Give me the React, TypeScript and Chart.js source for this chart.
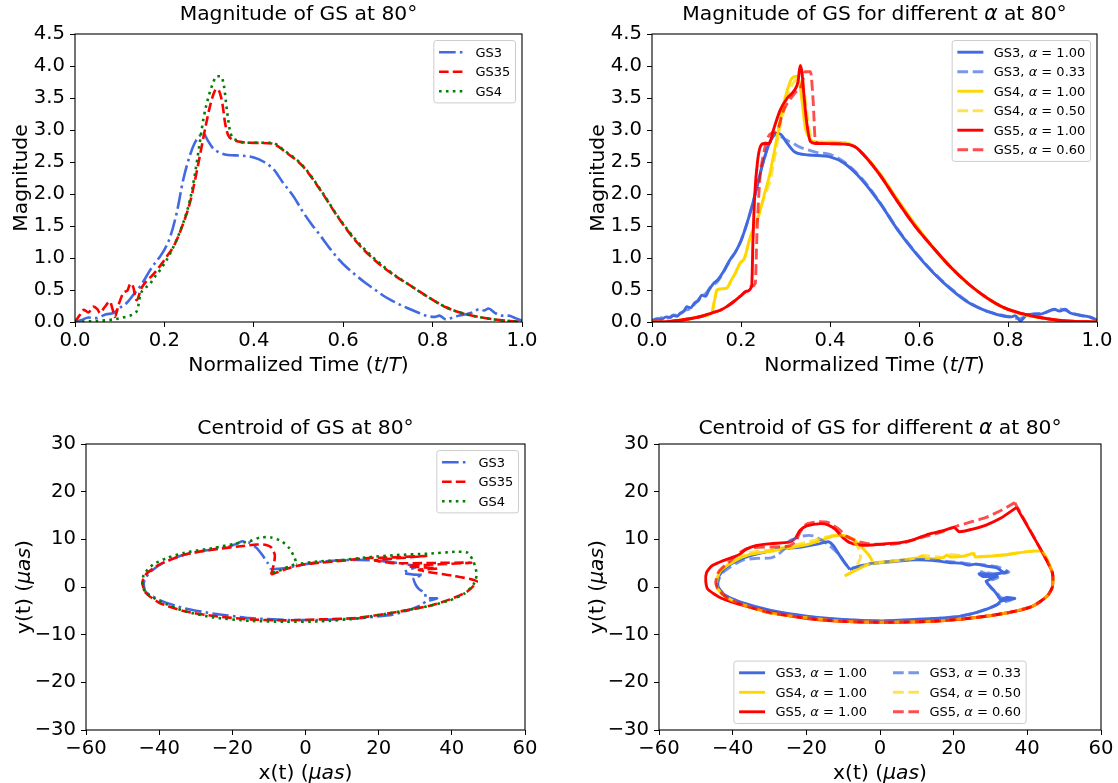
import React, { useEffect, useRef } from 'react';
import { Chart, registerables } from 'chart.js';

Chart.register(...registerables);

type Pt = [number, number];
type Part = { t: string; it?: boolean };

const FONT = '"DejaVu Sans", "Liberation Sans", sans-serif';
const FS = 20.3;
const TFS = 19.6;
const LFS = 13;

const BLUE = '#4169E1';
const RED = '#FF0000';
const GREEN = '#008000';
const GOLD = '#FFD700';
const BLUE_L = 'rgba(65,105,225,0.7)';
const RED_L = 'rgba(255,0,0,0.7)';
const GOLD_L = 'rgba(255,215,0,0.7)';

// ---------- tick labels ----------
const timeTicks = ['0.0', '0.2', '0.4', '0.6', '0.8', '1.0'];
const magTicks = ['0.0', '0.5', '1.0', '1.5', '2.0', '2.5', '3.0', '3.5', '4.0', '4.5'];
const posXTicks = ['\u221260', '\u221240', '\u221220', '0', '20', '40', '60'];
const posYTicks = ['\u221230', '\u221220', '\u221210', '0', '10', '20', '30'];

// ---------- top-left: magnitude [t/T, magnitude] ----------
const magGS3: Pt[] = [[0,0],[0.015,0.03],[0.03,0.07],[0.045,0.06],[0.056,0.08],[0.07,0.12],[0.086,0.14],[0.1,0.22],[0.116,0.3],[0.13,0.42],[0.145,0.55],[0.157,0.68],[0.168,0.81],[0.18,0.93],[0.19,1.02],[0.2,1.13],[0.213,1.33],[0.228,1.72],[0.242,2.22],[0.256,2.58],[0.268,2.8],[0.278,2.9],[0.287,2.95],[0.296,2.85],[0.308,2.72],[0.322,2.65],[0.342,2.61],[0.37,2.6],[0.4,2.57],[0.423,2.5],[0.445,2.38],[0.463,2.2],[0.49,1.95],[0.51,1.72],[0.53,1.52],[0.55,1.34],[0.57,1.15],[0.59,0.98],[0.61,0.84],[0.63,0.72],[0.65,0.61],[0.67,0.51],[0.69,0.41],[0.71,0.33],[0.73,0.26],[0.75,0.2],[0.77,0.14],[0.79,0.09],[0.805,0.08],[0.815,0.1],[0.83,0.04],[0.845,0.07],[0.86,0.1],[0.875,0.12],[0.89,0.15],[0.905,0.2],[0.915,0.18],[0.925,0.21],[0.94,0.14],[0.955,0.1],[0.97,0.1],[0.985,0.06],[1.0,0.02]];
const magGS35: Pt[] = [[0,0],[0.01,0.1],[0.02,0.19],[0.03,0.15],[0.041,0.24],[0.05,0.2],[0.056,0.14],[0.066,0.23],[0.078,0.32],[0.084,0.2],[0.089,0.08],[0.098,0.28],[0.108,0.45],[0.118,0.5],[0.124,0.6],[0.13,0.55],[0.138,0.34],[0.148,0.52],[0.16,0.64],[0.172,0.72],[0.183,0.81],[0.195,0.92],[0.205,1.02],[0.222,1.2],[0.24,1.5],[0.257,1.86],[0.268,2.2],[0.28,2.62],[0.292,3.05],[0.303,3.4],[0.312,3.6],[0.318,3.64],[0.324,3.58],[0.33,3.4],[0.336,3.1],[0.342,2.93],[0.35,2.86],[0.366,2.82],[0.39,2.8],[0.44,2.79],[0.47,2.66],[0.51,2.43],[0.55,2.05],[0.59,1.62],[0.63,1.25],[0.67,0.97],[0.71,0.75],[0.75,0.57],[0.79,0.39],[0.83,0.23],[0.87,0.13],[0.91,0.07],[0.95,0.03],[1.0,0]];
const magGS4: Pt[] = [[0,0],[0.046,0.015],[0.086,0.04],[0.118,0.09],[0.132,0.13],[0.14,0.2],[0.146,0.42],[0.156,0.52],[0.168,0.6],[0.18,0.72],[0.19,0.81],[0.213,1.07],[0.242,1.55],[0.257,1.9],[0.268,2.3],[0.278,2.75],[0.288,3.2],[0.298,3.5],[0.308,3.72],[0.317,3.84],[0.326,3.84],[0.333,3.7],[0.34,3.3],[0.348,2.95],[0.362,2.84],[0.39,2.8],[0.44,2.8],[0.47,2.67],[0.51,2.44],[0.55,2.06],[0.59,1.63],[0.63,1.27],[0.67,0.99],[0.71,0.76],[0.75,0.57],[0.79,0.39],[0.83,0.23],[0.87,0.13],[0.91,0.07],[0.95,0.03],[1.0,0]];

// ---------- top-right: magnitude for different alpha ----------
const magA_GS3_100: Pt[] = [[0,0.02],[0.012,0.05],[0.02,0.04],[0.032,0.08],[0.04,0.07],[0.048,0.1],[0.056,0.09],[0.064,0.14],[0.072,0.17],[0.078,0.24],[0.086,0.22],[0.096,0.3],[0.104,0.33],[0.112,0.42],[0.12,0.4],[0.128,0.5],[0.138,0.6],[0.148,0.66],[0.16,0.78],[0.175,0.97],[0.188,1.1],[0.2,1.27],[0.216,1.6],[0.232,2.0],[0.248,2.45],[0.264,2.8],[0.28,2.95],[0.29,2.93],[0.304,2.79],[0.32,2.66],[0.352,2.61],[0.4,2.58],[0.432,2.48],[0.472,2.22],[0.512,1.86],[0.552,1.44],[0.592,1.08],[0.632,0.77],[0.672,0.51],[0.712,0.3],[0.752,0.17],[0.792,0.09],[0.808,0.08],[0.816,0.1],[0.828,0.02],[0.84,0.1],[0.856,0.12],[0.872,0.12],[0.888,0.16],[0.904,0.2],[0.916,0.17],[0.928,0.2],[0.94,0.14],[0.952,0.12],[0.964,0.1],[0.976,0.09],[0.988,0.07],[1.0,0.02]];
const magA_GS3_033: Pt[] = [[0,0.03],[0.012,0.04],[0.024,0.07],[0.036,0.06],[0.048,0.11],[0.06,0.1],[0.072,0.18],[0.084,0.2],[0.096,0.28],[0.108,0.38],[0.12,0.44],[0.132,0.55],[0.148,0.64],[0.16,0.77],[0.175,0.96],[0.188,1.1],[0.2,1.27],[0.216,1.6],[0.232,2.0],[0.248,2.45],[0.264,2.8],[0.28,2.93],[0.29,2.9],[0.3,2.85],[0.315,2.8],[0.33,2.74],[0.35,2.69],[0.37,2.65],[0.4,2.62],[0.432,2.5],[0.472,2.24],[0.512,1.87],[0.552,1.45],[0.592,1.09],[0.632,0.78],[0.672,0.52],[0.712,0.31],[0.752,0.17],[0.792,0.1],[0.81,0.07],[0.826,0.05],[0.84,0.09],[0.86,0.13],[0.88,0.14],[0.9,0.19],[0.92,0.2],[0.94,0.15],[0.96,0.11],[0.98,0.08],[1.0,0.03]];
const magA_GS4_100: Pt[] = [[0,0],[0.04,0.01],[0.085,0.05],[0.112,0.09],[0.134,0.14],[0.14,0.32],[0.146,0.5],[0.158,0.52],[0.168,0.53],[0.178,0.65],[0.187,0.76],[0.198,0.92],[0.208,1.0],[0.22,1.31],[0.239,1.65],[0.252,1.98],[0.265,2.32],[0.278,2.78],[0.29,3.22],[0.3,3.52],[0.312,3.78],[0.324,3.84],[0.332,3.72],[0.338,3.4],[0.344,3.05],[0.352,2.9],[0.368,2.81],[0.4,2.81],[0.432,2.8],[0.456,2.74],[0.472,2.64],[0.512,2.32],[0.552,1.91],[0.592,1.52],[0.632,1.16],[0.672,0.85],[0.712,0.59],[0.752,0.38],[0.792,0.22],[0.832,0.12],[0.872,0.07],[0.912,0.03],[0.952,0.01],[1.0,0]];
const magA_GS4_050: Pt[] = [[0,0],[0.04,0.01],[0.085,0.05],[0.112,0.09],[0.134,0.14],[0.14,0.32],[0.146,0.5],[0.158,0.52],[0.168,0.53],[0.178,0.65],[0.187,0.76],[0.198,0.92],[0.208,1.0],[0.22,1.31],[0.239,1.65],[0.252,1.95],[0.265,2.2],[0.275,2.55],[0.285,2.95],[0.296,3.3],[0.308,3.6],[0.32,3.76],[0.33,3.8],[0.338,3.76],[0.345,3.45],[0.352,3.05],[0.36,2.86],[0.372,2.81],[0.4,2.81],[0.432,2.8],[0.456,2.74],[0.472,2.64],[0.512,2.32],[0.552,1.91],[0.592,1.52],[0.632,1.16],[0.672,0.85],[0.712,0.59],[0.752,0.38],[0.792,0.22],[0.832,0.12],[0.872,0.07],[0.912,0.03],[0.952,0.01],[1.0,0]];
const magA_GS5_100: Pt[] = [[0,0],[0.04,0.01],[0.085,0.05],[0.112,0.09],[0.134,0.14],[0.152,0.18],[0.168,0.24],[0.184,0.32],[0.198,0.4],[0.212,0.48],[0.224,0.56],[0.227,1.3],[0.231,2.0],[0.237,2.5],[0.244,2.75],[0.252,2.79],[0.264,2.79],[0.272,2.98],[0.288,3.31],[0.304,3.5],[0.32,3.62],[0.328,3.75],[0.333,4.01],[0.337,3.9],[0.342,3.5],[0.348,3.1],[0.356,2.82],[0.368,2.79],[0.432,2.78],[0.456,2.74],[0.472,2.64],[0.512,2.3],[0.552,1.88],[0.592,1.49],[0.632,1.16],[0.672,0.85],[0.712,0.59],[0.752,0.38],[0.792,0.22],[0.832,0.13],[0.872,0.07],[0.912,0.03],[0.952,0.01],[1.0,0]];
const magA_GS5_060: Pt[] = [[0,0],[0.04,0.01],[0.085,0.05],[0.112,0.09],[0.134,0.14],[0.152,0.18],[0.168,0.24],[0.184,0.32],[0.198,0.4],[0.212,0.48],[0.224,0.56],[0.232,0.6],[0.236,1.4],[0.242,2.2],[0.25,2.6],[0.258,2.84],[0.268,2.95],[0.28,2.98],[0.296,3.31],[0.32,3.57],[0.336,3.7],[0.344,3.91],[0.356,3.91],[0.362,3.47],[0.367,2.84],[0.376,2.79],[0.432,2.78],[0.456,2.74],[0.472,2.64],[0.512,2.3],[0.552,1.88],[0.592,1.49],[0.632,1.16],[0.672,0.85],[0.712,0.59],[0.752,0.38],[0.792,0.22],[0.832,0.13],[0.872,0.07],[0.912,0.03],[0.952,0.01],[1.0,0]];

// ---------- bottom-left: centroid [x, y] in uas ----------
const cenGS3: Pt[] = [[-9.4,3.7],[-5.5,4.0],[-0.6,4.7],[4.2,5.3],[9.1,5.6],[14,5.7],[18.9,5.6],[23.8,5.2],[27.7,4.7],[30.6,4.4],[26.7,3.0],[29.6,2.6],[32.1,2.5],[29.6,1.9],[30.1,0.5],[31.1,-0.5],[32.6,-1.2],[33,-2.3],[36,-2.4],[33,-3],[31.6,-3.8],[28.7,-4.7],[23.8,-5.8],[14,-6.6],[4.2,-6.9],[-5.5,-6.9],[-15.3,-6.5],[-25,-5.6],[-33,-4.5],[-39.7,-2.8],[-43.7,-1],[-44.2,0.9],[-42.7,3],[-38.8,5.1],[-33,6.8],[-27,7.7],[-21.2,8.4],[-18.2,9.3],[-17.3,9.6],[-15.3,9.3],[-13.4,8.2],[-11.9,6.8],[-10.4,5.1],[-9.4,3.7]];
const cenGS35: Pt[] = [[-9.4,2.6],[-8.6,5.0],[-8.4,6.8],[-9.5,8.4],[-11.5,8.9],[-13.4,8.9],[-17,8.6],[-25,7.9],[-33,6.8],[-40,4.7],[-43.7,2.6],[-44.6,0.9],[-43.7,-1.2],[-40,-3.3],[-33,-5.1],[-25,-6.1],[-15.3,-6.8],[-5.5,-7.0],[4.2,-6.8],[14,-6.5],[23.8,-5.4],[33.6,-4.0],[39.5,-2.6],[44.3,-0.9],[46.8,1.2],[40,2.4],[34,3.1],[31,3.6],[36,3.9],[28,4.4],[45.3,5.1],[24,5.0],[19,5.6],[33,6.5],[20,6.1],[17,6.1],[10,5.5],[4,5.1],[0,4.8],[-4,4.1],[-9.4,2.6]];
const cenGS4: Pt[] = [[-9,3],[-7.5,3.3],[-4.5,4.3],[-2.6,5.0],[-3.2,6.5],[-4.5,8.2],[-6.5,9.6],[-9.4,10.4],[-12.4,10.4],[-15.3,9.6],[-19.2,9.1],[-25,8.2],[-33,7.2],[-37.8,6.1],[-41.7,4.7],[-44.2,2.6],[-44.6,0.5],[-43.7,-1.2],[-39.7,-3],[-33,-5.1],[-25,-6.4],[-15.3,-7.1],[-5.5,-7.3],[4.2,-7.2],[14,-6.6],[23.8,-5.4],[33.6,-4],[39.5,-2.8],[43.4,-1.4],[45.9,0.5],[46.8,2.6],[45.9,5.4],[44.3,7.2],[41.4,7.4],[33.6,7],[24.8,6.7],[17.9,6.3],[9.1,5.6],[4.2,5.4],[-2.6,4.8]];

// ---------- bottom-right: centroid for different alpha ----------
const cenA_GS3_100: Pt[] = [[-8.2,3.7],[-5.3,4.4],[-2.3,4.9],[4.5,5.4],[9.4,5.7],[14.2,5.6],[19.1,5.1],[22,5.0],[24,4.6],[26,4.8],[28.8,4.4],[30.5,4.2],[31.8,4.0],[33.7,3.0],[34.5,3.2],[30.8,2.6],[26.9,2.8],[28,2.2],[31.8,2.3],[28.8,1.2],[29.5,0.5],[30.3,-0.2],[31,-0.8],[31.8,-1.6],[32.7,-2.6],[34.5,-2.2],[36.6,-2.4],[32.7,-3],[31.8,-3.7],[28.8,-4.7],[24,-5.8],[19.1,-6.4],[9.4,-6.8],[-0.4,-7.1],[-10.1,-6.8],[-19.9,-6.1],[-29.6,-4.9],[-37.4,-3.3],[-42.3,-1.6],[-44,0.2],[-43.7,2.3],[-42,4],[-38,5.8],[-33,7],[-27,8],[-22,8.3],[-17,9],[-14,9.5],[-12.6,8.6],[-11.1,6.8],[-9.2,4.7],[-8.2,3.7]];
const cenA_GS3_033: Pt[] = [[-7.2,4.0],[-5,4.5],[-2,5.0],[4,5.5],[9.5,5.8],[14,5.7],[19,5.3],[24,4.9],[28.8,4.6],[32,4.2],[35,3.1],[31,2.8],[27.5,3.2],[32,2.0],[29,1.0],[30.5,-0.5],[32,-1.5],[33,-2.3],[36,-2.6],[33,-3.3],[30,-4.3],[26,-5.4],[20,-6.3],[10,-6.9],[0,-7.1],[-10,-6.9],[-20,-6.2],[-30,-5.0],[-37.4,-3.4],[-42.3,-1.6],[-44.2,0.5],[-43.5,2.0],[-42.3,3.3],[-37.4,5.6],[-33.5,6.0],[-29.6,6.1],[-27.7,6.8],[-25.7,8.2],[-24.7,9.6],[-20.8,10.7],[-17.9,10.7],[-14,8.9],[-11.1,6.8],[-9.2,4.7],[-7.2,4.0]];
const cenA_GS4_100: Pt[] = [[-9.6,2.3],[-5.3,4.0],[-2.3,4.9],[5.5,5.6],[10.3,6.1],[11.3,6.5],[12.3,6.0],[17.1,6.1],[18.1,6.7],[19.1,6.3],[23,6.5],[25.4,7.0],[25.9,6.3],[33.7,6.7],[43.9,7.5],[46.8,3],[46.8,0],[45.4,-1.9],[41.5,-4],[34.7,-5.4],[24.9,-6.5],[14.2,-7.2],[0,-7.4],[-10.1,-7.2],[-19.9,-6.5],[-30,-5.4],[-37,-3.8],[-41.5,-2.3],[-44,-0.5],[-44.4,0.8],[-43.5,3.2],[-40,5.2],[-35.5,6.8],[-29.6,7.5],[-24.7,8.2],[-19.9,8.9],[-16,9.8],[-12.6,10.7],[-10.1,10.8],[-7.2,10],[-4.8,8.2],[-2.8,6.5],[-2.1,5.4]];
const cenA_GS4_050: Pt[] = [[-9.2,2.5],[-5.3,4.1],[-2.3,5.0],[5.5,5.6],[10.3,6.2],[12,6.6],[17,6.2],[18.5,6.8],[23,6.6],[25.5,7.1],[26,6.4],[34,6.8],[43.9,7.5],[46.8,3],[46.8,0],[45.4,-1.9],[41.5,-4],[34.7,-5.4],[24.9,-6.5],[14.2,-7.2],[0,-7.4],[-10.1,-7.2],[-19.9,-6.5],[-30,-5.4],[-37,-3.8],[-41.5,-2.3],[-44,-0.5],[-44.4,0.8],[-43.5,3.2],[-40,5.4],[-35.5,7.2],[-29.6,7.8],[-24.7,8.5],[-19.9,9.4],[-16,10.2],[-12.1,10.9],[-9.6,10.7],[-7.2,9.6],[-5.7,7.9],[-5.3,6.1],[-6.2,4.7]];
const cenA_GS5_100: Pt[] = [[37.1,16.7],[43.9,7.5],[46.8,3],[46.8,0],[45.4,-1.9],[41.5,-4],[34.7,-5.4],[24.9,-6.5],[14.2,-7.2],[0,-7.4],[-10.1,-7.2],[-19.9,-6.6],[-30,-5.2],[-37.4,-3.8],[-43.2,-2.3],[-46.7,-0.5],[-47.3,1.2],[-47.1,3],[-45.7,4.4],[-42.3,5.6],[-38.4,6.7],[-36.4,7.9],[-33.5,8.7],[-29.6,9.1],[-24.7,9.4],[-23,10.2],[-21.8,11.8],[-19.9,12.8],[-16,13.3],[-14,13],[-12.1,12.1],[-10.1,10.4],[-8.2,9.3],[-5.3,8.8],[-2.3,8.8],[1.6,9.1],[5.5,9.3],[9.4,10],[13.2,11.1],[17.1,11.8],[20.1,12.5],[21.5,11.6],[24.9,12.1],[28.8,13],[32.7,14.4],[37.1,16.7]];
const cenA_GS5_060: Pt[] = [[36.6,17.7],[43.9,7.5],[46.8,3],[46.8,0],[45.4,-1.9],[41.5,-4],[34.7,-5.4],[24.9,-6.5],[14.2,-7.2],[0,-7.4],[-10.1,-7.2],[-19.9,-6.5],[-30,-5.4],[-37,-3.8],[-41.5,-2.3],[-44,-0.5],[-44.6,1],[-43.8,3.2],[-40.5,5.6],[-37.5,7.5],[-35.5,8.2],[-29.6,8.4],[-24.7,8.6],[-22.8,9.6],[-21.8,11.4],[-19.9,13.2],[-16.9,13.7],[-14,13.5],[-11.1,12.1],[-9.2,10.7],[-6.2,9.6],[-3.3,9.1],[1.6,8.9],[6.4,9.3],[11.3,10.4],[16.2,11.4],[21,12.8],[24.9,13.7],[28.8,14.6],[32.7,16],[36.6,17.7]];

// ---------- styles ----------
const LW_A = 2.6;
const LW_B = 2.9;
const dashed = (lw: number) => [3.7 * lw, 1.6 * lw];
const dashDot = (lw: number) => [6.4 * lw, 1.6 * lw, 1 * lw, 1.6 * lw];
const dotted = (lw: number) => [1 * lw, 1.65 * lw];

const alphaLabel = (gs: string, a: string): Part[] => [{ t: gs + ', ' }, { t: '\u03b1', it: true }, { t: ' = ' + a }];

type Series = { label: Part[]; pts: Pt[]; color: string; width: number; dash: number[] };
type Axis = { min: number; max: number; step: number; labels: string[] };
type Panel = {
  box: number[];
  area: number[];
  x: Axis;
  y: Axis;
  title: Part[];
  titleGap: number;
  xlabel: Part[];
  ylabel: Part[];
  ylabOff: number;
  series: Series[];
  legendLoc: 'ur' | 'lc';
  legendCols: number;
  mono: boolean;
};

const timeAxis: Axis = { min: 0, max: 1, step: 0.2, labels: timeTicks };
const magAxis: Axis = { min: 0, max: 4.5, step: 0.5, labels: magTicks };
const posXAxis: Axis = { min: -60, max: 60, step: 20, labels: posXTicks };
const posYAxis: Axis = { min: -30, max: 30, step: 10, labels: posYTicks };

const timeLabel: Part[] = [{ t: 'Normalized Time (' }, { t: 't', it: true }, { t: '/' }, { t: 'T', it: true }, { t: ')' }];
const xLabel: Part[] = [{ t: 'x(t) (' }, { t: '\u03bcas', it: true }, { t: ')' }];
const yLabel: Part[] = [{ t: 'y(t) (' }, { t: '\u03bcas', it: true }, { t: ')' }];

const alphaSeries = (d: Pt[][]): Series[] => [
  { label: alphaLabel('GS3', '1.00'), pts: d[0], color: BLUE, width: LW_B, dash: [] },
  { label: alphaLabel('GS3', '0.33'), pts: d[1], color: BLUE_L, width: LW_B, dash: dashed(LW_B) },
  { label: alphaLabel('GS4', '1.00'), pts: d[2], color: GOLD, width: LW_B, dash: [] },
  { label: alphaLabel('GS4', '0.50'), pts: d[3], color: GOLD_L, width: LW_B, dash: dashed(LW_B) },
  { label: alphaLabel('GS5', '1.00'), pts: d[4], color: RED, width: LW_B, dash: [] },
  { label: alphaLabel('GS5', '0.60'), pts: d[5], color: RED_L, width: LW_B, dash: dashed(LW_B) },
];

const PANELS: Panel[] = [
  {
    box: [0, 0, 559, 391], area: [75, 34, 522, 322], x: timeAxis, y: magAxis,
    title: [{ t: 'Magnitude of GS at 80\u00b0' }], titleGap: 14.5, xlabel: timeLabel, ylabel: [{ t: 'Magnitude' }], ylabOff: 48,
    series: [
      { label: [{ t: 'GS3' }], pts: magGS3, color: BLUE, width: LW_A, dash: dashDot(LW_A) },
      { label: [{ t: 'GS35' }], pts: magGS35, color: RED, width: LW_A, dash: dashed(LW_A) },
      { label: [{ t: 'GS4' }], pts: magGS4, color: GREEN, width: LW_A, dash: dotted(LW_A) },
    ],
    legendLoc: 'ur', legendCols: 1, mono: true,
  },
  {
    box: [559, 0, 559, 391], area: [652, 34, 1097, 322], x: timeAxis, y: magAxis,
    title: [{ t: 'Magnitude of GS for different ' }, { t: '\u03b1', it: true }, { t: ' at 80\u00b0' }], titleGap: 14.5,
    xlabel: timeLabel, ylabel: [{ t: 'Magnitude' }], ylabOff: 48,
    series: alphaSeries([magA_GS3_100, magA_GS3_033, magA_GS4_100, magA_GS4_050, magA_GS5_100, magA_GS5_060]),
    legendLoc: 'ur', legendCols: 1, mono: true,
  },
  {
    box: [0, 391, 559, 392], area: [86, 444, 525, 730], x: posXAxis, y: posYAxis,
    title: [{ t: 'Centroid of GS at 80\u00b0' }], titleGap: 10, xlabel: xLabel, ylabel: yLabel, ylabOff: 56,
    series: [
      { label: [{ t: 'GS3' }], pts: cenGS3, color: BLUE, width: LW_A, dash: dashDot(LW_A) },
      { label: [{ t: 'GS35' }], pts: cenGS35, color: RED, width: LW_A, dash: dashed(LW_A) },
      { label: [{ t: 'GS4' }], pts: cenGS4, color: GREEN, width: LW_A, dash: dotted(LW_A) },
    ],
    legendLoc: 'ur', legendCols: 1, mono: false,
  },
  {
    box: [559, 391, 559, 392], area: [659, 444, 1101, 730], x: posXAxis, y: posYAxis,
    title: [{ t: 'Centroid of GS for different ' }, { t: '\u03b1', it: true }, { t: ' at 80\u00b0' }], titleGap: 10,
    xlabel: xLabel, ylabel: yLabel, ylabOff: 56,
    series: (() => {
      const s = alphaSeries([cenA_GS3_100, cenA_GS3_033, cenA_GS4_100, cenA_GS4_050, cenA_GS5_100, cenA_GS5_060]);
      return [s[0], s[2], s[4], s[1], s[3], s[5]];
    })(),
    legendLoc: 'lc', legendCols: 2, mono: false,
  },
];

// ---------- text helpers ----------
const fontOf = (size: number, it?: boolean) => `${it ? 'italic ' : ''}${size}px ${FONT}`;

function richWidth(ctx: CanvasRenderingContext2D, parts: Part[], size: number) {
  let w = 0;
  for (const p of parts) {
    ctx.font = fontOf(size, p.it);
    w += ctx.measureText(p.t).width;
  }
  return w;
}

function drawRich(ctx: CanvasRenderingContext2D, parts: Part[], x: number, y: number, size: number, align: 'left' | 'center') {
  const w = richWidth(ctx, parts, size);
  let cx = align === 'center' ? x - w / 2 : x;
  ctx.textAlign = 'left';
  ctx.textBaseline = 'alphabetic';
  ctx.fillStyle = '#000';
  for (const p of parts) {
    ctx.font = fontOf(size, p.it);
    ctx.fillText(p.t, cx, y);
    cx += ctx.measureText(p.t).width;
  }
}

function drawLegend(ctx: CanvasRenderingContext2D, a: { left: number; right: number; top: number; bottom: number }, p: Panel) {
  const fs = LFS;
  const bp = 0.4 * fs, hl = 2 * fs, htp = 0.8 * fs, ls = 0.5 * fs, cs = 2 * fs, bap = 0.5 * fs;
  const items = p.series;
  const cols = p.legendCols;
  const rows = Math.ceil(items.length / cols);
  const colItems: Series[][] = [];
  for (let c = 0; c < cols; c++) colItems.push(items.slice(c * rows, (c + 1) * rows));
  const colW = colItems.map((ci) => Math.max(...ci.map((s) => richWidth(ctx, s.label, fs))) + hl + htp);
  const W = 2 * bp + colW.reduce((u, v) => u + v, 0) + cs * (cols - 1);
  const H = 2 * bp + rows * fs + (rows - 1) * ls;
  let x0: number, y0: number;
  if (p.legendLoc === 'ur') {
    x0 = a.right - bap - W;
    y0 = a.top + bap;
  } else {
    x0 = (a.left + a.right) / 2 - W / 2;
    y0 = a.bottom - bap - H;
  }
  const r = 0.2 * fs;
  ctx.save();
  ctx.beginPath();
  ctx.moveTo(x0 + r, y0);
  ctx.lineTo(x0 + W - r, y0);
  ctx.quadraticCurveTo(x0 + W, y0, x0 + W, y0 + r);
  ctx.lineTo(x0 + W, y0 + H - r);
  ctx.quadraticCurveTo(x0 + W, y0 + H, x0 + W - r, y0 + H);
  ctx.lineTo(x0 + r, y0 + H);
  ctx.quadraticCurveTo(x0, y0 + H, x0, y0 + H - r);
  ctx.lineTo(x0, y0 + r);
  ctx.quadraticCurveTo(x0, y0, x0 + r, y0);
  ctx.closePath();
  ctx.fillStyle = 'rgba(255,255,255,0.8)';
  ctx.fill();
  ctx.setLineDash([]);
  ctx.strokeStyle = '#cccccc';
  ctx.lineWidth = 1;
  ctx.stroke();
  let cx = x0 + bp;
  for (let c = 0; c < cols; c++) {
    colItems[c].forEach((s, rIdx) => {
      const cy = y0 + bp + rIdx * (fs + ls) + fs / 2;
      ctx.beginPath();
      ctx.setLineDash(s.dash);
      ctx.lineDashOffset = 0;
      ctx.strokeStyle = s.color;
      ctx.lineWidth = s.width;
      ctx.lineCap = 'butt';
      ctx.moveTo(cx, cy);
      ctx.lineTo(cx + hl, cy);
      ctx.stroke();
      ctx.setLineDash([]);
      drawRich(ctx, s.label, cx + hl + htp, cy + 0.36 * fs, fs, 'left');
    });
    cx += colW[c] + cs;
  }
  ctx.restore();
}

function decor(p: Panel) {
  return {
    id: 'decor',
    afterDraw(chart: any) {
      const ctx: CanvasRenderingContext2D = chart.ctx;
      const a = chart.chartArea;
      ctx.save();
      ctx.setLineDash([]);
      ctx.strokeStyle = '#000';
      ctx.lineWidth = 1.1;
      ctx.strokeRect(a.left, a.top, a.right - a.left, a.bottom - a.top);
      drawLegend(ctx, a, p);
      const cx = (a.left + a.right) / 2;
      drawRich(ctx, p.title, cx, a.top - p.titleGap, FS, 'center');
      drawRich(ctx, p.xlabel, cx, a.bottom + 49, FS, 'center');
      ctx.translate(a.left - p.ylabOff, (a.top + a.bottom) / 2);
      ctx.rotate(-Math.PI / 2);
      drawRich(ctx, p.ylabel, 0, 0, FS, 'center');
      ctx.restore();
    },
  };
}

const YW = 70;
const XH = 40;

function axisOpts(ax: Axis, horizontal: boolean) {
  return {
    type: 'linear' as const,
    position: horizontal ? ('bottom' as const) : ('left' as const),
    min: ax.min,
    max: ax.max,
    afterFit: (s: any) => {
      if (horizontal) s.height = XH;
      else s.width = YW;
    },
    grid: { display: true, drawOnChartArea: false, drawTicks: true, tickLength: 5, color: '#000', lineWidth: 1 },
    border: { display: false },
    ticks: {
      stepSize: ax.step,
      autoSkip: false,
      maxRotation: 0,
      minRotation: 0,
      padding: horizontal ? 2.5 : 5,
      color: '#000',
      font: { family: FONT, size: TFS },
      callback: (_v: any, i: number) => ax.labels[i] ?? '',
    },
  };
}

function PanelChart({ p }: { p: Panel }) {
  const ref = useRef<HTMLCanvasElement>(null);
  useEffect(() => {
    const canvas = ref.current;
    if (!canvas) return;
    const [bx, by, bw, bh] = p.box;
    const [L, T, R, B] = p.area;
    const n = p.series.length;
    const chart = new Chart(canvas, {
      type: 'scatter',
      data: {
        datasets: p.series.map((s, i) => ({
          label: s.label.map((q) => q.t).join(''),
          data: s.pts.map(([x, y]) => ({ x, y })),
          showLine: true,
          pointRadius: 0,
          pointHoverRadius: 0,
          borderColor: s.color,
          backgroundColor: s.color,
          borderWidth: s.width,
          borderDash: s.dash,
          fill: false,
          clip: 0,
          order: n - i,
          tension: p.mono ? 0 : 0.2,
          cubicInterpolationMode: p.mono ? 'monotone' : 'default',
        })) as any,
      },
      options: {
        responsive: false,
        animation: false,
        events: [],
        layout: { padding: { left: L - bx - YW, top: T - by, right: bx + bw - R, bottom: by + bh - B - XH } },
        plugins: { legend: { display: false }, tooltip: { enabled: false }, title: { display: false } },
        scales: { x: axisOpts(p.x, true), y: axisOpts(p.y, false) } as any,
      },
      plugins: [decor(p)],
    });
    return () => chart.destroy();
  }, [p]);
  return (
    <canvas
      ref={ref}
      width={p.box[2]}
      height={p.box[3]}
      style={{ position: 'absolute', left: p.box[0], top: p.box[1], width: p.box[2], height: p.box[3] }}
    />
  );
}

export default function App() {
  return (
    <div style={{ position: 'fixed', left: 0, top: 0, width: 1118, height: 783, background: '#fff', overflow: 'hidden' }}>
      {PANELS.map((p, i) => (
        <PanelChart key={i} p={p} />
      ))}
    </div>
  );
}
